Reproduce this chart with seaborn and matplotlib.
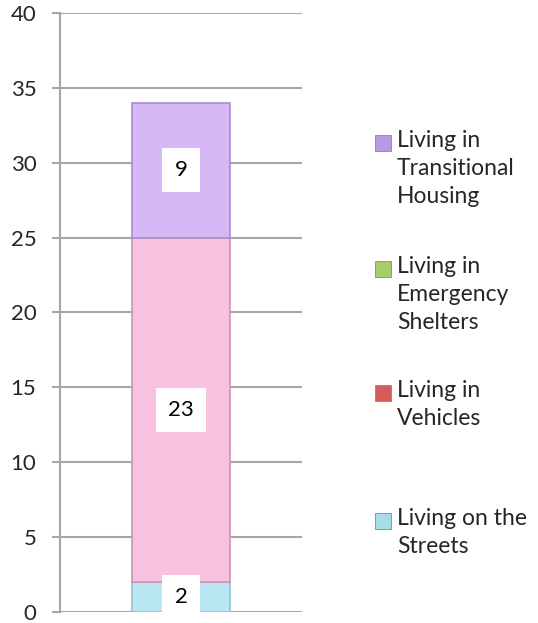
import matplotlib
matplotlib.use("Agg")
import matplotlib.pyplot as plt
from matplotlib.patches import Rectangle
import seaborn as sns
import pandas as pd

# stacked from bottom to top
series = ["Living on the Streets", "Living in Vehicles",
          "Living in Emergency Shelters", "Living in Transitional Housing"]
values = [2, 23, 0, 9]
bar_colors = ["#b9e8f3", "#f8c1de", "#c8e6a0", "#d6b8f7"]
edge_colors = ["#8fc4d2", "#c995b4", "#9cbf6e", "#a98ccc"]
# legend runs top to bottom
legend_labels = ["Living in\nTransitional\nHousing", "Living in\nEmergency\nShelters",
                 "Living in\nVehicles", "Living on the\nStreets"]
legend_colors = ["#b39ae2", "#a7cc6b", "#d65c5c", "#a9dbe9"]

sns.set_style("white")
plt.rcParams["font.family"] = ["Lato", "DejaVu Sans"]

fig = plt.figure(figsize=(5.38, 6.23), dpi=100)
ax = fig.add_axes([0.1115, 0.0177, 0.4498, 0.9615])

bottom = 0
for name, val, col, ec in zip(series, values, bar_colors, edge_colors):
    df = pd.DataFrame({"cat": ["all"], "val": [val]})
    sns.barplot(data=df, x="cat", y="val", bottom=bottom, color=col,
                saturation=1, width=0.405, edgecolor=ec, linewidth=1.2,
                ax=ax, zorder=3)
    bottom += val

for cont, val in zip(ax.containers, values):
    if val > 0:
        ax.bar_label(cont, labels=[str(val)], label_type="center", fontsize=16,
                     color="black", zorder=5,
                     bbox=dict(boxstyle="square,pad=0.55", fc="white", ec="none"))

ax.set_xlim(-0.5, 0.5)
ax.set_ylim(0, 40)
ax.set_yticks(range(0, 41, 5))
ax.set_xticks([])
ax.set_xlabel("")
ax.set_ylabel("")
ax.yaxis.grid(True, color="#a6a6a6", linewidth=1.5, zorder=0)
ax.set_axisbelow(True)
for s in ["top", "right", "bottom"]:
    ax.spines[s].set_visible(False)
ax.spines["left"].set_color("#a6a6a6")
ax.spines["left"].set_linewidth(1.5)
ax.tick_params(axis="y", direction="out", length=6, width=1.5, color="#a6a6a6",
               labelsize=16, pad=11, left=True)

# legend, drawn by hand to keep Excel-like spacing
tops = [135, 261, 385, 513]
W, H = 538, 623
for lab, col, top in zip(legend_labels, legend_colors, tops):
    fig.patches.append(Rectangle((375 / W, 1 - (top + 16) / H), 16 / W, 16 / H,
                                 transform=fig.transFigure, fc=col,
                                 ec="#888888", lw=0.6))
    fig.text(397 / W, 1 - (top - 5) / H, lab, fontsize=16.5, va="top", ha="left",
             linespacing=1.4)

fig.savefig("out.png", dpi=100)
